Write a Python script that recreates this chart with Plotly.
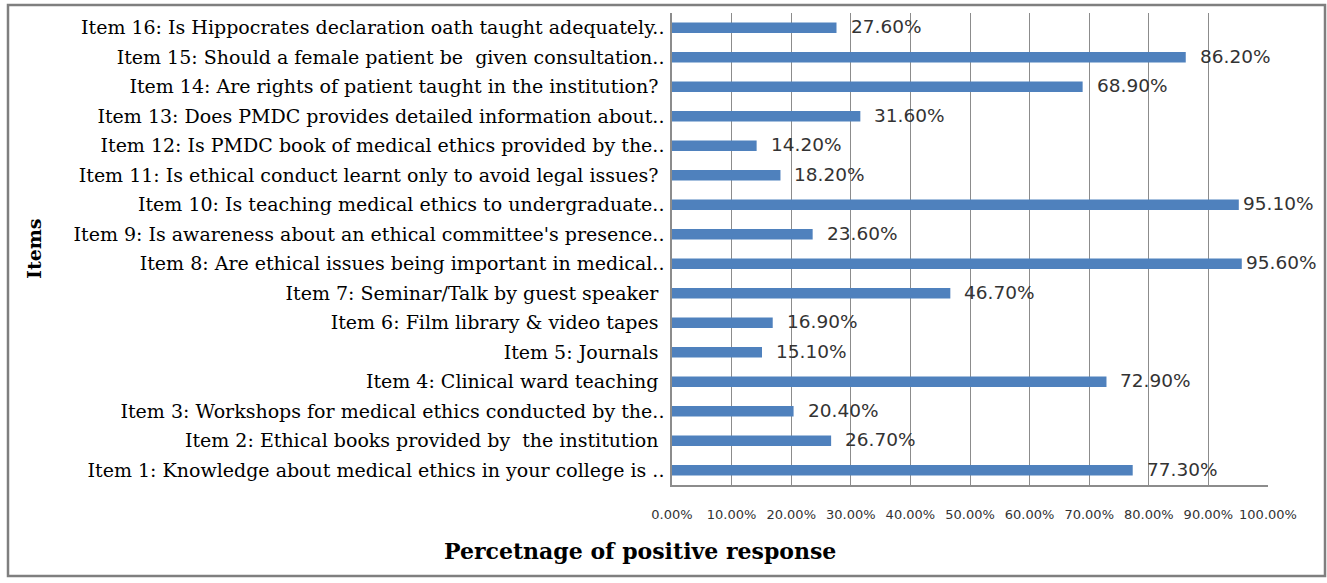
import plotly.graph_objects as go

categories = [
    "Item 1: Knowledge about medical ethics in your college is ..",
    "Item 2: Ethical books provided by  the institution\u00a0",
    "Item 3: Workshops for medical ethics conducted by the..",
    "Item 4: Clinical ward teaching\u00a0",
    "Item 5: Journals\u00a0",
    "Item 6: Film library & video tapes\u00a0",
    "Item 7: Seminar/Talk by guest speaker\u00a0",
    "Item 8: Are ethical issues being important in medical..",
    "Item 9: Is awareness about an ethical committee's presence..",
    "Item 10: Is teaching medical ethics to undergraduate..",
    "Item 11: Is ethical conduct learnt only to avoid legal issues?\u00a0",
    "Item 12: Is PMDC book of medical ethics provided by the..",
    "Item 13: Does PMDC provides detailed information about..",
    "Item 14: Are rights of patient taught in the institution?\u00a0",
    "Item 15: Should a female patient be  given consultation..",
    "Item 16: Is Hippocrates declaration oath taught adequately..",
]
values = [77.3, 26.7, 20.4, 72.9, 15.1, 16.9, 46.7, 95.6, 23.6, 95.1, 18.2, 14.2, 31.6, 68.9, 86.2, 27.6]
x_ticks = [0, 10, 20, 30, 40, 50, 60, 70, 80, 90, 100]
x_tick_labels = [f"{t:.2f}%" for t in x_ticks]

BAR = "#4F81BD"
GRID = "#8c8c8c"
LABEL = "#333333"

fig = go.Figure()
fig.add_trace(go.Bar(
    x=values, y=categories, orientation="h",
    marker=dict(color=BAR, line=dict(width=0)),
    width=0.36, hoverinfo="x+y",
))

for v, c in zip(values, categories):
    fig.add_annotation(
        x=v, y=c, xref="x", yref="y", text=f"{v:.2f}%",
        showarrow=False, xanchor="left", yanchor="middle",
        xshift=2 if v > 90 else 12, yshift=1,
        font=dict(family="DejaVu Sans", size=18.5, color=LABEL),
    )

# axis titles
fig.add_annotation(
    x=(640 - 672) / 596, y=-(551 - 485) / 472, xref="paper", yref="paper",
    text="<b>Percetnage of positive response</b>", showarrow=False,
    xanchor="center", yanchor="middle",
    font=dict(family="DejaVu Serif", size=22, color="#000000"),
)
fig.add_annotation(
    x=(34 - 672) / 596, y=0.5, xref="paper", yref="paper",
    text="<b>Items</b>", showarrow=False, textangle=-90,
    xanchor="center", yanchor="middle",
    font=dict(family="DejaVu Serif", size=19, color="#000000"),
)

# outer chart border
fig.add_shape(
    type="rect", xref="paper", yref="paper",
    x0=(8 - 672) / 596, x1=(1325 - 672) / 596,
    y0=(485 - 576) / 472, y1=(485 - 5) / 472,
    line=dict(color="#7f7f7f", width=2.5), fillcolor="rgba(0,0,0,0)",
    layer="below",
)

fig.update_layout(
    width=1327, height=583,
    margin=dict(l=672, r=59, t=13, b=98),
    paper_bgcolor="white", plot_bgcolor="white",
    showlegend=False,
    xaxis=dict(
        range=[0, 100], tickvals=x_ticks, ticktext=x_tick_labels,
        showgrid=True, gridcolor=GRID, gridwidth=1.3,
        showline=True, linecolor=GRID, linewidth=1.5, mirror=False,
        ticks="outside", ticklen=17, tickcolor="rgba(0,0,0,0)",
        tickfont=dict(family="DejaVu Sans", size=13, color=LABEL),
        zeroline=False, fixedrange=True,
    ),
    yaxis=dict(
        type="category", categoryorder="array", categoryarray=categories,
        showline=True, linecolor=GRID, linewidth=1.5,
        showgrid=False, ticks="outside", ticklen=2, tickcolor="rgba(0,0,0,0)",
        tickfont=dict(family="DejaVu Serif", size=19, color="#000000"),
        fixedrange=True,
    ),
)

fig.write_html("out.html")
